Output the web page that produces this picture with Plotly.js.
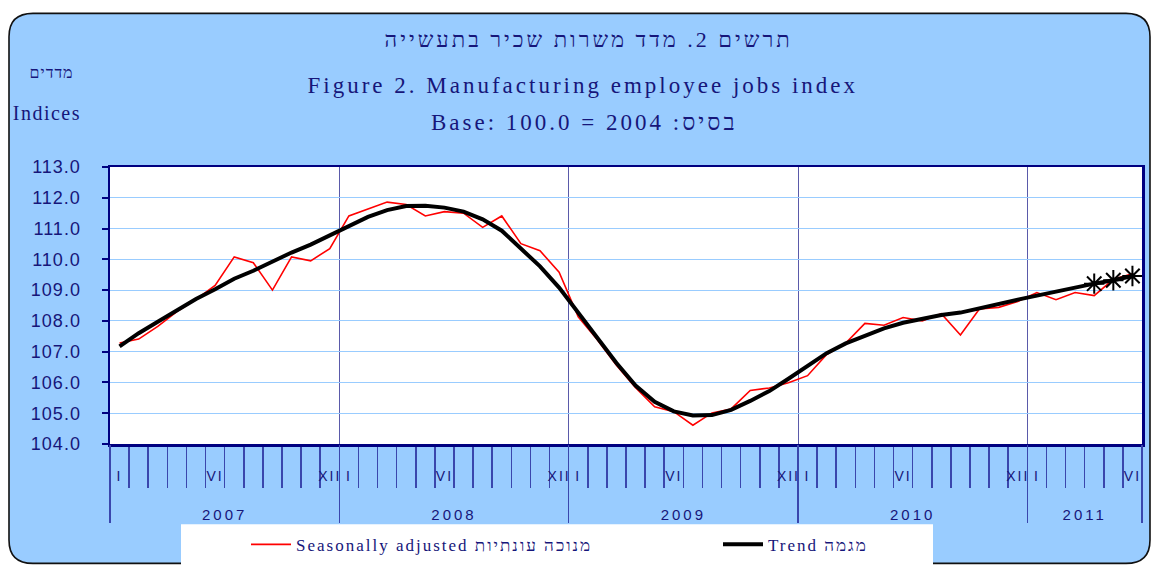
<!DOCTYPE html>
<html>
<head>
<meta charset="utf-8">
<script src="https://cdn.plot.ly/plotly-3.0.1.min.js"></script>
<style>
  html, body { margin: 0; padding: 0; background: #ffffff; }
  #chart { width: 1152px; height: 573px; }
  #chart .annotation text { letter-spacing: 3px; }
  #chart .annotation[data-index="3"] text { letter-spacing: 1px; }
  #chart .annotation[data-index="4"] text { letter-spacing: 1.5px; }
  #chart .legendtext, #chart g[class^="legend"] text { letter-spacing: 2px; }
  #chart .xtick text { letter-spacing: 2px; }
  #chart .x2tick text { letter-spacing: 3px; }
  #chart .ytick text { letter-spacing: 1px; }
</style>
</head>
<body>
<div id="chart"></div>
<script>
// ---- data ----
const monthLabels = ['I', '', '', '', '', 'VI', '', '', '', '', '', 'XII'];
const years = ['2007', '2008', '2009', '2010', '2011'];
const monthsPerYear = [12, 12, 12, 12, 6];

const seasonallyAdjusted = [
  107.28, 107.41, 107.82, 108.30, 108.70, 109.15, 110.08, 109.89, 109.00, 110.08, 109.95, 110.35,
  111.41, 111.64, 111.86, 111.78, 111.41, 111.55, 111.50, 111.04, 111.41, 110.51, 110.28, 109.58,
  108.13, 107.39, 106.56, 105.83, 105.21, 105.05, 104.61, 105.01, 105.14, 105.74, 105.82, 105.99,
  106.22, 106.91, 107.28, 107.92, 107.86, 108.11, 108.00, 108.23, 107.54, 108.39, 108.44, 108.63,
  108.92, 108.69, 108.92, 108.82, 109.35, 109.53
];
const trend = [
  107.17, 107.60, 107.97, 108.34, 108.71, 109.03, 109.37, 109.63, 109.93, 110.22, 110.48, 110.78,
  111.08, 111.38, 111.60, 111.73, 111.74, 111.68, 111.55, 111.30, 110.93, 110.37, 109.77, 109.08,
  108.28, 107.47, 106.63, 105.90, 105.37, 105.06, 104.93, 104.94, 105.11, 105.40, 105.72, 106.12,
  106.52, 106.95, 107.27, 107.53, 107.76, 107.94, 108.07, 108.19, 108.27, 108.42, 108.56, 108.69,
  108.82, 108.96, 109.08, 109.21, 109.32, 109.46
];
const estimatedCount = 3; // last trend points marked with asterisks
const yTicks = [104, 105, 106, 107, 108, 109, 110, 111, 112, 113];

const titleHe = 'תרשים 2. מדד משרות שכיר בתעשייה';
const titleEn = 'Figure 2. Manufacturing employee jobs index';
const baseText = 'Base: 100.0 = 2004 :בסיס';
const unitHe = 'מדדים';
const unitEn = 'Indices';
const nameSA = 'Seasonally adjusted מנוכה עונתיות';
const nameTrend = 'Trend מגמה';

// ---- derived axis helpers ----
const xIdx = seasonallyAdjusted.map((_, i) => i);
const monthTickText = [];
monthsPerYear.forEach(n => { for (let m = 0; m < n; m++) monthTickText.push(monthLabels[m]); });
const monthBounds = [];
for (let i = 0; i <= xIdx.length; i++) monthBounds.push(i - 0.5);
const yearBounds = [-0.5];
const yearCenters = [];
let acc = 0;
monthsPerYear.forEach(n => { yearCenters.push(acc + n / 2 - 0.5); acc += n; yearBounds.push(acc - 0.5); });
const xRange = [-0.5, xIdx.length - 0.5];

// ---- geometry helpers (pixel -> paper) ----
const W = 1152, H = 573;
const M = { l: 110, r: 10, t: 167, b: 123 };
const PW = W - M.l - M.r, PH = H - M.t - M.b;
const px = v => (v - M.l) / PW;
const py = v => (H - M.b - v) / PH;

function roundRectPath(x0, y0, x1, y1, r) {
  const P = (a, b) => px(a).toFixed(5) + ',' + py(b).toFixed(5);
  return 'M' + P(x0 + r, y0) + ' L' + P(x1 - r, y0) + ' Q' + P(x1, y0) + ' ' + P(x1, y0 + r) +
    ' L' + P(x1, y1 - r) + ' Q' + P(x1, y1) + ' ' + P(x1 - r, y1) +
    ' L' + P(x0 + r, y1) + ' Q' + P(x0, y1) + ' ' + P(x0, y1 - r) +
    ' L' + P(x0, y0 + r) + ' Q' + P(x0, y0) + ' ' + P(x0 + r, y0) + ' Z';
}

const navy = '#000080';
const textNavy = '#16167a';
const tickBlue = '#3a46ad';
const bg = '#99ccff';
const serif = 'Liberation Serif, Times New Roman, serif';
const sans = 'Liberation Sans, Arial, sans-serif';

const traces = [
  {
    x: xIdx, y: seasonallyAdjusted, type: 'scatter', mode: 'lines', name: nameSA,
    xaxis: 'x', yaxis: 'y',
    line: { color: '#ff0000', width: 1.6 }, legend: 'legend', hoverinfo: 'skip'
  },
  {
    x: xIdx, y: trend, type: 'scatter', mode: 'lines', name: nameTrend,
    xaxis: 'x2', yaxis: 'y',
    line: { color: '#000000', width: 4 }, legend: 'legend2', hoverinfo: 'skip'
  },
  {
    x: xIdx.slice(-estimatedCount), y: trend.slice(-estimatedCount), type: 'scatter', mode: 'markers',
    xaxis: 'x2', yaxis: 'y',
    showlegend: false, hoverinfo: 'skip',
    marker: { symbol: 'asterisk-open', size: 17, color: '#000000', line: { color: '#000000', width: 2 } }
  }
];

const layout = {
  width: W, height: H,
  margin: M,
  paper_bgcolor: '#ffffff',
  plot_bgcolor: 'rgba(0,0,0,0)',
  showlegend: true,
  // month labels + month separator ticks
  xaxis: {
    range: xRange, tickmode: 'array', tickvals: xIdx, ticktext: monthTickText,
    ticks: 'outside', ticklen: 18, tickcolor: 'rgba(0,0,0,0)',
    tickfont: { family: sans, size: 14, color: textNavy },
    minor: { tickmode: 'array', tickvals: monthBounds, ticks: 'outside', ticklen: 41, tickwidth: 1.5,
             tickcolor: tickBlue, showgrid: false },
    showgrid: false, zeroline: false, showline: true, mirror: true, linecolor: navy, linewidth: 2.5,
    fixedrange: true
  },
  // year labels + year separator ticks and gridlines
  xaxis2: {
    overlaying: 'x', anchor: 'y', side: 'bottom', range: xRange,
    tickmode: 'array', tickvals: yearCenters, ticktext: years, ticks: 'outside', ticklen: 57,
    tickcolor: 'rgba(0,0,0,0)', tickfont: { family: sans, size: 15, color: textNavy },
    minor: { tickmode: 'array', tickvals: yearBounds, ticks: 'outside', ticklen: 78, tickwidth: 1.5,
             tickcolor: tickBlue, showgrid: true, gridcolor: '#5a5aaa', gridwidth: 1 },
    showgrid: false, zeroline: false, showline: false, fixedrange: true
  },
  yaxis: {
    range: [104, 113], tickmode: 'array', tickvals: yTicks, ticktext: yTicks.map(v => v.toFixed(1)),
    ticks: 'outside', ticklen: 6, tickwidth: 2, tickcolor: navy, ticklabelstandoff: 17,
    tickfont: { family: sans, size: 18, color: textNavy },
    showgrid: true, gridcolor: '#99ccff', gridwidth: 1.2, zeroline: false,
    showline: true, mirror: true, linecolor: navy, linewidth: 2.5, fixedrange: true
  },
  legend: {
    orientation: 'h', x: px(246), y: py(553), xanchor: 'left', yanchor: 'middle',
    bgcolor: 'rgba(0,0,0,0)', borderwidth: 0, itemwidth: 40,
    entrywidth: 380, entrywidthmode: 'pixels',
    font: { family: serif, size: 17, color: textNavy }
  },
  legend2: {
    orientation: 'h', x: px(718), y: py(553), xanchor: 'left', yanchor: 'middle',
    bgcolor: 'rgba(0,0,0,0)', borderwidth: 0, itemwidth: 40,
    entrywidth: 180, entrywidthmode: 'pixels',
    font: { family: serif, size: 17, color: textNavy }
  },
  shapes: [
    { type: 'path', xref: 'paper', yref: 'paper', layer: 'below',
      path: roundRectPath(9, 10, 1150, 572, 24), fillcolor: bg, line: { color: '#111111', width: 1.6 } },
    { type: 'rect', xref: 'paper', yref: 'paper', layer: 'below',
      x0: 0, x1: 1, y0: 0, y1: 1, fillcolor: '#ffffff', line: { width: 0 } },
    { type: 'rect', xref: 'paper', yref: 'paper', layer: 'below',
      x0: px(181), x1: px(933), y0: py(532), y1: py(580), fillcolor: '#ffffff', line: { width: 0 } }
  ],
  annotations: [
    { text: titleHe, xref: 'paper', yref: 'paper', x: px(588), y: py(37), xanchor: 'center', yanchor: 'middle',
      showarrow: false, font: { family: serif, size: 22, color: textNavy } },
    { text: titleEn, xref: 'paper', yref: 'paper', x: px(583), y: py(84), xanchor: 'center', yanchor: 'middle',
      showarrow: false, font: { family: serif, size: 23, color: textNavy } },
    { text: baseText, xref: 'paper', yref: 'paper', x: px(584), y: py(122), xanchor: 'center', yanchor: 'middle',
      showarrow: false, font: { family: serif, size: 23, color: textNavy } },
    { text: unitHe, xref: 'paper', yref: 'paper', x: px(51), y: py(70), xanchor: 'center', yanchor: 'middle',
      showarrow: false, font: { family: serif, size: 16, color: textNavy } },
    { text: unitEn, xref: 'paper', yref: 'paper', x: px(47), y: py(112), xanchor: 'center', yanchor: 'middle',
      showarrow: false, font: { family: serif, size: 20, color: textNavy } }
  ]
};

Plotly.newPlot('chart', traces, layout, { displayModeBar: false, staticPlot: true });
</script>
</body>
</html>
